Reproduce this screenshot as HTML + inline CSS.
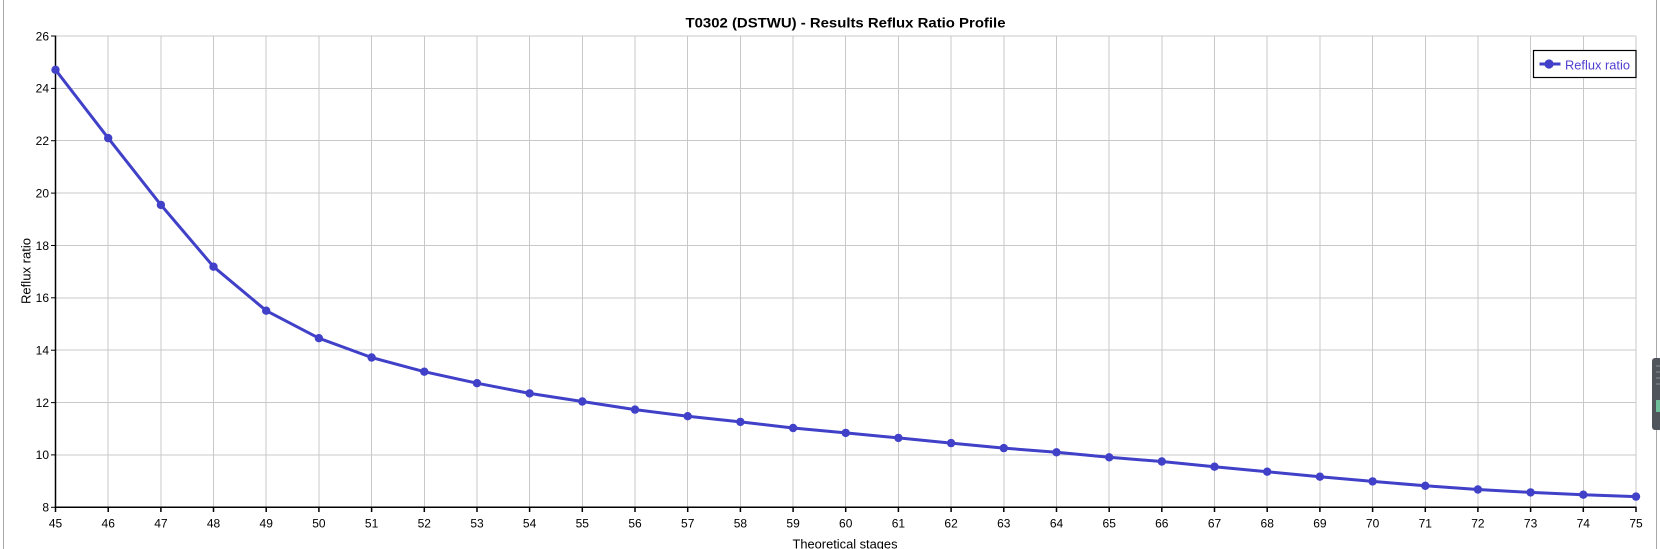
<!DOCTYPE html>
<html>
<head>
<meta charset="utf-8">
<style>
  html, body { margin:0; padding:0; background:#ffffff; }
  svg { display:block; }
  text { font-family: "Liberation Sans", "DejaVu Sans", sans-serif; }
</style>
</head>
<body>
<svg width="1660" height="549" viewBox="0 0 1660 549" xmlns="http://www.w3.org/2000/svg">
  <rect x="0" y="0" width="1660" height="549" fill="#ffffff"/>
  <!-- window borders -->
  <line x1="3.5" y1="0" x2="3.5" y2="549" stroke="#a8a8a8" stroke-width="1"/>
  <line x1="1656.5" y1="0" x2="1656.5" y2="549" stroke="#a8a8a8" stroke-width="1"/>
  <!-- scrollbar widget -->
  <rect x="1652" y="358" width="10" height="72" rx="3" fill="#50555c"/>
  <g stroke="#8a9098" stroke-width="1">
    <line x1="1656" y1="366" x2="1660" y2="366"/>
    <line x1="1656" y1="372" x2="1660" y2="372"/>
    <line x1="1656" y1="378" x2="1660" y2="378"/>
    <line x1="1656" y1="384" x2="1660" y2="384"/>
  </g>
  <rect x="1656" y="400" width="4" height="12" fill="#6fbf9a"/>

  <!-- title -->
  <text x="845.5" y="27.5" font-size="14" font-weight="bold" text-anchor="middle" fill="#000" textLength="320" lengthAdjust="spacingAndGlyphs">T0302 (DSTWU) - Results Reflux Ratio Profile</text>

  <!-- grid -->
  <g stroke="#c8c8c8" stroke-width="1" shape-rendering="crispEdges">
    <line x1="55.5" y1="36" x2="1636" y2="36"/>
    <line x1="55.5" y1="88.4" x2="1636" y2="88.4"/>
    <line x1="55.5" y1="140.7" x2="1636" y2="140.7"/>
    <line x1="55.5" y1="193.1" x2="1636" y2="193.1"/>
    <line x1="55.5" y1="245.5" x2="1636" y2="245.5"/>
    <line x1="55.5" y1="297.8" x2="1636" y2="297.8"/>
    <line x1="55.5" y1="350.2" x2="1636" y2="350.2"/>
    <line x1="55.5" y1="402.6" x2="1636" y2="402.6"/>
    <line x1="55.5" y1="454.9" x2="1636" y2="454.9"/>
    <line x1="108.2" y1="36" x2="108.2" y2="507"/>
    <line x1="160.9" y1="36" x2="160.9" y2="507"/>
    <line x1="213.5" y1="36" x2="213.5" y2="507"/>
    <line x1="266.2" y1="36" x2="266.2" y2="507"/>
    <line x1="318.9" y1="36" x2="318.9" y2="507"/>
    <line x1="371.6" y1="36" x2="371.6" y2="507"/>
    <line x1="424.3" y1="36" x2="424.3" y2="507"/>
    <line x1="477.0" y1="36" x2="477.0" y2="507"/>
    <line x1="529.6" y1="36" x2="529.6" y2="507"/>
    <line x1="582.3" y1="36" x2="582.3" y2="507"/>
    <line x1="635.0" y1="36" x2="635.0" y2="507"/>
    <line x1="687.7" y1="36" x2="687.7" y2="507"/>
    <line x1="740.4" y1="36" x2="740.4" y2="507"/>
    <line x1="793.1" y1="36" x2="793.1" y2="507"/>
    <line x1="845.7" y1="36" x2="845.7" y2="507"/>
    <line x1="898.4" y1="36" x2="898.4" y2="507"/>
    <line x1="951.1" y1="36" x2="951.1" y2="507"/>
    <line x1="1003.8" y1="36" x2="1003.8" y2="507"/>
    <line x1="1056.5" y1="36" x2="1056.5" y2="507"/>
    <line x1="1109.2" y1="36" x2="1109.2" y2="507"/>
    <line x1="1161.8" y1="36" x2="1161.8" y2="507"/>
    <line x1="1214.5" y1="36" x2="1214.5" y2="507"/>
    <line x1="1267.2" y1="36" x2="1267.2" y2="507"/>
    <line x1="1319.9" y1="36" x2="1319.9" y2="507"/>
    <line x1="1372.6" y1="36" x2="1372.6" y2="507"/>
    <line x1="1425.3" y1="36" x2="1425.3" y2="507"/>
    <line x1="1477.9" y1="36" x2="1477.9" y2="507"/>
    <line x1="1530.6" y1="36" x2="1530.6" y2="507"/>
    <line x1="1583.3" y1="36" x2="1583.3" y2="507"/>
    <line x1="1636.0" y1="36" x2="1636.0" y2="507"/>
  </g>

  <!-- axes -->
  <g stroke="#000" stroke-width="1.5">
    <line x1="55.5" y1="35.5" x2="55.5" y2="507.5"/>
    <line x1="55" y1="507.3" x2="1636.5" y2="507.3"/>
  </g>
  <!-- y ticks -->
  <g stroke="#000" stroke-width="1">
    <line x1="51" y1="36" x2="55" y2="36"/>
    <line x1="51" y1="88.4" x2="55" y2="88.4"/>
    <line x1="51" y1="140.7" x2="55" y2="140.7"/>
    <line x1="51" y1="193.1" x2="55" y2="193.1"/>
    <line x1="51" y1="245.5" x2="55" y2="245.5"/>
    <line x1="51" y1="297.8" x2="55" y2="297.8"/>
    <line x1="51" y1="350.2" x2="55" y2="350.2"/>
    <line x1="51" y1="402.6" x2="55" y2="402.6"/>
    <line x1="51" y1="454.9" x2="55" y2="454.9"/>
    <line x1="51" y1="507.3" x2="55" y2="507.3"/>
  </g>
  <!-- x ticks -->
  <g stroke="#000" stroke-width="1.5">
    <line x1="55.5" y1="507" x2="55.5" y2="512"/>
    <line x1="108.2" y1="507" x2="108.2" y2="512"/>
    <line x1="160.9" y1="507" x2="160.9" y2="512"/>
    <line x1="213.5" y1="507" x2="213.5" y2="512"/>
    <line x1="266.2" y1="507" x2="266.2" y2="512"/>
    <line x1="318.9" y1="507" x2="318.9" y2="512"/>
    <line x1="371.6" y1="507" x2="371.6" y2="512"/>
    <line x1="424.3" y1="507" x2="424.3" y2="512"/>
    <line x1="477.0" y1="507" x2="477.0" y2="512"/>
    <line x1="529.6" y1="507" x2="529.6" y2="512"/>
    <line x1="582.3" y1="507" x2="582.3" y2="512"/>
    <line x1="635.0" y1="507" x2="635.0" y2="512"/>
    <line x1="687.7" y1="507" x2="687.7" y2="512"/>
    <line x1="740.4" y1="507" x2="740.4" y2="512"/>
    <line x1="793.1" y1="507" x2="793.1" y2="512"/>
    <line x1="845.7" y1="507" x2="845.7" y2="512"/>
    <line x1="898.4" y1="507" x2="898.4" y2="512"/>
    <line x1="951.1" y1="507" x2="951.1" y2="512"/>
    <line x1="1003.8" y1="507" x2="1003.8" y2="512"/>
    <line x1="1056.5" y1="507" x2="1056.5" y2="512"/>
    <line x1="1109.2" y1="507" x2="1109.2" y2="512"/>
    <line x1="1161.8" y1="507" x2="1161.8" y2="512"/>
    <line x1="1214.5" y1="507" x2="1214.5" y2="512"/>
    <line x1="1267.2" y1="507" x2="1267.2" y2="512"/>
    <line x1="1319.9" y1="507" x2="1319.9" y2="512"/>
    <line x1="1372.6" y1="507" x2="1372.6" y2="512"/>
    <line x1="1425.3" y1="507" x2="1425.3" y2="512"/>
    <line x1="1477.9" y1="507" x2="1477.9" y2="512"/>
    <line x1="1530.6" y1="507" x2="1530.6" y2="512"/>
    <line x1="1583.3" y1="507" x2="1583.3" y2="512"/>
    <line x1="1636.0" y1="507" x2="1636.0" y2="512"/>
  </g>

  <!-- y tick labels -->
  <g font-size="12" fill="#000" text-anchor="end">
    <text x="49" y="40.3">26</text>
    <text x="49" y="92.7">24</text>
    <text x="49" y="145">22</text>
    <text x="49" y="197.4">20</text>
    <text x="49" y="249.8">18</text>
    <text x="49" y="302.1">16</text>
    <text x="49" y="354.5">14</text>
    <text x="49" y="406.9">12</text>
    <text x="49" y="459.2">10</text>
    <text x="49" y="511.6">8</text>
  </g>
  <!-- x tick labels -->
  <g font-size="12" fill="#000" text-anchor="middle">
    <text x="55.5" y="527.5">45</text>
    <text x="108.2" y="527.5">46</text>
    <text x="160.9" y="527.5">47</text>
    <text x="213.5" y="527.5">48</text>
    <text x="266.2" y="527.5">49</text>
    <text x="318.9" y="527.5">50</text>
    <text x="371.6" y="527.5">51</text>
    <text x="424.3" y="527.5">52</text>
    <text x="477.0" y="527.5">53</text>
    <text x="529.6" y="527.5">54</text>
    <text x="582.3" y="527.5">55</text>
    <text x="635.0" y="527.5">56</text>
    <text x="687.7" y="527.5">57</text>
    <text x="740.4" y="527.5">58</text>
    <text x="793.1" y="527.5">59</text>
    <text x="845.7" y="527.5">60</text>
    <text x="898.4" y="527.5">61</text>
    <text x="951.1" y="527.5">62</text>
    <text x="1003.8" y="527.5">63</text>
    <text x="1056.5" y="527.5">64</text>
    <text x="1109.2" y="527.5">65</text>
    <text x="1161.8" y="527.5">66</text>
    <text x="1214.5" y="527.5">67</text>
    <text x="1267.2" y="527.5">68</text>
    <text x="1319.9" y="527.5">69</text>
    <text x="1372.6" y="527.5">70</text>
    <text x="1425.3" y="527.5">71</text>
    <text x="1477.9" y="527.5">72</text>
    <text x="1530.6" y="527.5">73</text>
    <text x="1583.3" y="527.5">74</text>
    <text x="1636.0" y="527.5">75</text>
  </g>

  <!-- axis titles -->
  <text x="845" y="548.5" font-size="12.5" text-anchor="middle" fill="#000" textLength="105" lengthAdjust="spacingAndGlyphs">Theoretical stages</text>
  <text transform="translate(30.5,271) rotate(-90)" font-size="12.5" text-anchor="middle" fill="#000" textLength="66" lengthAdjust="spacingAndGlyphs">Reflux ratio</text>

  <!-- series -->
  <polyline fill="none" stroke="#4040c8" stroke-width="3" stroke-linejoin="round" stroke-linecap="round"
    points="55.5,69.8 108.2,138.1 160.9,204.9 213.5,266.7 266.2,310.7 318.9,338.2 371.6,357.5 424.3,371.7 477.0,383.2 529.6,393.4 582.3,401.5 635.0,409.6 687.7,416.2 740.4,421.9 793.1,428.0 845.7,432.9 898.4,437.9 951.1,443.1 1003.8,448.1 1056.5,452.3 1109.2,457.3 1161.8,461.5 1214.5,466.7 1267.2,471.7 1319.9,476.7 1372.6,481.4 1425.3,485.8 1477.9,489.5 1530.6,492.4 1583.3,494.7 1636.0,496.6"/>
  <g fill="#4040c8">
    <circle cx="55.5" cy="69.8" r="4.2"/>
    <circle cx="108.2" cy="138.1" r="4.2"/>
    <circle cx="160.9" cy="204.9" r="4.2"/>
    <circle cx="213.5" cy="266.7" r="4.2"/>
    <circle cx="266.2" cy="310.7" r="4.2"/>
    <circle cx="318.9" cy="338.2" r="4.2"/>
    <circle cx="371.6" cy="357.5" r="4.2"/>
    <circle cx="424.3" cy="371.7" r="4.2"/>
    <circle cx="477.0" cy="383.2" r="4.2"/>
    <circle cx="529.6" cy="393.4" r="4.2"/>
    <circle cx="582.3" cy="401.5" r="4.2"/>
    <circle cx="635.0" cy="409.6" r="4.2"/>
    <circle cx="687.7" cy="416.2" r="4.2"/>
    <circle cx="740.4" cy="421.9" r="4.2"/>
    <circle cx="793.1" cy="428.0" r="4.2"/>
    <circle cx="845.7" cy="432.9" r="4.2"/>
    <circle cx="898.4" cy="437.9" r="4.2"/>
    <circle cx="951.1" cy="443.1" r="4.2"/>
    <circle cx="1003.8" cy="448.1" r="4.2"/>
    <circle cx="1056.5" cy="452.3" r="4.2"/>
    <circle cx="1109.2" cy="457.3" r="4.2"/>
    <circle cx="1161.8" cy="461.5" r="4.2"/>
    <circle cx="1214.5" cy="466.7" r="4.2"/>
    <circle cx="1267.2" cy="471.7" r="4.2"/>
    <circle cx="1319.9" cy="476.7" r="4.2"/>
    <circle cx="1372.6" cy="481.4" r="4.2"/>
    <circle cx="1425.3" cy="485.8" r="4.2"/>
    <circle cx="1477.9" cy="489.5" r="4.2"/>
    <circle cx="1530.6" cy="492.4" r="4.2"/>
    <circle cx="1583.3" cy="494.7" r="4.2"/>
    <circle cx="1636.0" cy="496.6" r="4.2"/>
  </g>

  <!-- legend -->
  <rect x="1533.5" y="50.5" width="102.5" height="27" fill="#ffffff" stroke="#000" stroke-width="1.2"/>
  <line x1="1539.5" y1="64" x2="1560.5" y2="64" stroke="#4040c8" stroke-width="3"/>
  <circle cx="1549" cy="64" r="4.6" fill="#4040c8"/>
  <text x="1565" y="69.5" font-size="12.5" fill="#5040d0" textLength="65" lengthAdjust="spacingAndGlyphs">Reflux ratio</text>
</svg>
</body>
</html>
